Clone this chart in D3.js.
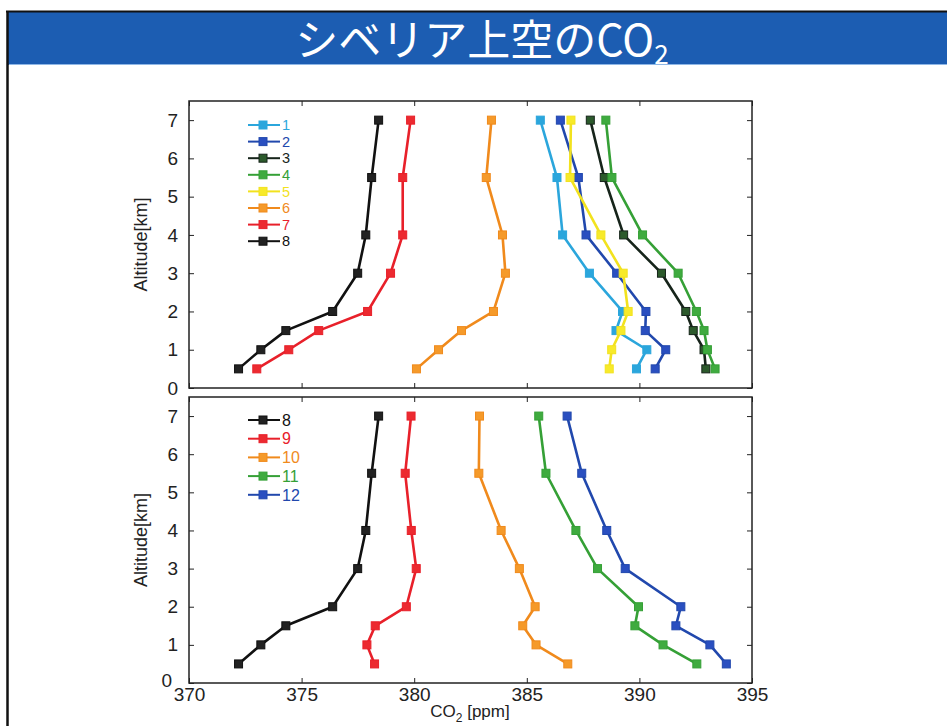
<!DOCTYPE html>
<html><head><meta charset="utf-8">
<script src="https://cdn.jsdelivr.net/npm/d3@7"></script>
<style>html,body{margin:0;padding:0;background:#fff;}svg{display:block;}</style>
</head><body>
<svg id="c" width="947" height="726"></svg>
<script>
const altitudes = [0.5, 1, 1.5, 2, 3, 4, 5.5, 7];
const s1 = [389.87, 390.33, 388.96, 389.25, 387.78, 386.59, 386.34, 385.6];
const s2 = [390.7, 391.17, 390.26, 390.29, 388.99, 387.63, 387.29, 386.49];
const s3 = [392.95, 392.87, 392.39, 392.06, 390.98, 389.3, 388.44, 387.82];
const s4 = [393.36, 393.02, 392.87, 392.53, 391.72, 390.14, 388.78, 388.51];
const s5 = [388.66, 388.77, 389.18, 389.5, 389.28, 388.29, 386.92, 386.96];
const s6 = [380.1, 381.08, 382.1, 383.52, 384.05, 383.92, 383.2, 383.43];
const s7 = [373.01, 374.43, 375.76, 377.93, 378.95, 379.49, 379.49, 379.84];
const s8 = [372.2, 373.19, 374.3, 376.38, 377.49, 377.85, 378.11, 378.42];
const s9 = [378.24, 377.9, 378.27, 379.65, 380.09, 379.87, 379.6, 379.86];
const s10 = [386.82, 385.41, 384.82, 385.37, 384.67, 383.86, 382.87, 382.9];
const s11 = [392.55, 391.05, 389.8, 389.96, 388.14, 387.18, 385.85, 385.53];
const s12 = [393.86, 393.13, 391.62, 391.84, 389.37, 388.55, 387.44, 386.79];

const topNames = ["1","2","3","4","5","6","7","8"];
const topSeries = [s1, s2, s3, s4, s5, s6, s7, s8];
const botNames = ["8","9","10","11","12"];
const botSeries = [s8, s9, s10, s11, s12];
const xTicks = [370, 375, 380, 385, 390, 395];
const yTicks = [0, 1, 2, 3, 4, 5, 6, 7];

const colors = {"1":"#2ba6dc","2":"#2148ad","3":"#16241a","4":"#35a036","5":"#f2e21e","6":"#f08a1c","7":"#e8202a","8":"#111111","9":"#e8202a","10":"#f08a1c","11":"#35a036","12":"#2148ad"};
const markerFill = {"1":"#2ba6dc","2":"#2a4fc0","3":"#2c5a2c","4":"#3fab3f","5":"#f7ea2a","6":"#f59a2a","7":"#ec2a30","8":"#222222","9":"#ec2a30","10":"#f59a2a","11":"#3fab3f","12":"#2a4fc0"};

const svg = d3.select("#c");
const FONT = "'Liberation Sans', Arial, sans-serif";

// slide frame
svg.append("rect").attr("x",7).attr("y",12).attr("width",947).attr("height",53).attr("fill","#1c5db2");
svg.append("line").attr("x1",6).attr("x2",947).attr("y1",11.5).attr("y2",11.5).attr("stroke","#111").attr("stroke-width",2);
svg.append("line").attr("x1",7.5).attr("x2",7.5).attr("y1",11).attr("y2",726).attr("stroke","#111").attr("stroke-width",2.5);
svg.append("line").attr("x1",9).attr("x2",947).attr("y1",64.5).attr("y2",64.5).attr("stroke","#8fb7e6").attr("stroke-width",1);

const title = svg.append("text").attr("x",482).attr("y",56).attr("text-anchor","middle")
  .attr("fill","#fff").attr("font-family","'Noto Sans CJK JP', sans-serif").attr("font-size",43);
title.append("tspan").text("シベリア上空のCO");
title.append("tspan").attr("dy",8).attr("font-size",26).text("2");

const x = d3.scaleLinear().domain([370, 395]).range([189, 752]);

function panel(y0, y1, names, series, showX) {
  const y = d3.scaleLinear().domain([0, 7.5]).range([y1, y0]);
  const g = svg.append("g");
  const tk = a=>{a.select(".domain").remove(); a.selectAll("line").attr("stroke","#222");};
  g.append("g").attr("transform",`translate(189,0)`).call(d3.axisRight(y).tickValues(yTicks).tickSize(5).tickFormat("")).call(tk);
  g.append("g").attr("transform",`translate(752,0)`).call(d3.axisLeft(y).tickValues(yTicks).tickSize(5).tickFormat("")).call(tk);
  g.append("g").attr("transform",`translate(0,${y1})`).call(d3.axisTop(x).tickValues(xTicks).tickSize(5).tickFormat("")).call(tk);
  g.append("g").attr("transform",`translate(0,${y0})`).call(d3.axisBottom(x).tickValues(xTicks).tickSize(5).tickFormat("")).call(tk);
  g.append("g").attr("transform",`translate(189,0)`).call(d3.axisLeft(y).tickValues(yTicks).tickSize(0).tickPadding(11))
    .call(a=>{a.select(".domain").remove(); a.selectAll("text").attr("font-family",FONT).attr("font-size",19).attr("fill","#222");
      if (showX) a.selectAll("text").filter(d=>d===0).attr("dx",-6).attr("dy","0.2em");});
  if (showX) {
    g.append("g").attr("transform",`translate(0,${y1})`).call(d3.axisBottom(x).tickValues(xTicks).tickSize(0).tickPadding(5))
      .call(a=>{a.select(".domain").remove(); a.selectAll("text").attr("font-family",FONT).attr("font-size",19).attr("fill","#222");});
  }
  g.append("rect").attr("x",189).attr("y",y0).attr("width",563).attr("height",y1-y0)
    .attr("fill","none").attr("stroke","#222").attr("stroke-width",1.5);
  g.append("text").attr("transform",`translate(147,${(y0+y1)/2}) rotate(-90)`).attr("text-anchor","middle")
    .attr("font-family",FONT).attr("font-size",18).attr("fill","#222").text("Altitude[km]");

  const line = d3.line().x(d=>x(d[0])).y(d=>y(d[1]));
  names.forEach((n,i)=>{
    const pts = series[i].map((v,j)=>[v, altitudes[j]]);
    g.append("path").datum(pts).attr("d",line).attr("fill","none").attr("stroke",colors[n]).attr("stroke-width",2.6).attr("stroke-linejoin","round");
    g.selectAll(null).data(pts).enter().append("rect")
      .attr("x",d=>x(d[0])-4).attr("y",d=>y(d[1])-4).attr("width",8).attr("height",8)
      .attr("fill",markerFill[n]).attr("stroke",colors[n]).attr("stroke-width",1);
  });
  return g;
}

const gTop = panel(101, 388, topNames, topSeries, false);
const gBot = panel(397, 683, botNames, botSeries, true);

function legend(g, names, y0, dy, fs) {
  names.forEach((n,i)=>{
    const yy = y0 + i*dy;
    g.append("line").attr("x1",248).attr("x2",280).attr("y1",yy).attr("y2",yy).attr("stroke",colors[n]).attr("stroke-width",2);
    g.append("rect").attr("x",259).attr("y",yy-4).attr("width",8).attr("height",8).attr("fill",markerFill[n]).attr("stroke",colors[n]);
    g.append("text").attr("x",282).attr("y",yy).attr("dy","0.36em").attr("font-family",FONT).attr("font-size",fs).attr("fill",colors[n]).text(n);
  });
}
legend(gTop, topNames, 125, 16.6, 14.5);
legend(gBot, botNames, 420, 18.7, 16);

svg.append("text").attr("x",470).attr("y",717).attr("text-anchor","middle").attr("font-family",FONT).attr("font-size",17).attr("fill","#222")
  .call(t=>{t.append("tspan").text("CO"); t.append("tspan").attr("dy",5).attr("font-size",12).text("2"); t.append("tspan").attr("dy",-5).text(" [ppm]");});
</script>
</body></html>
